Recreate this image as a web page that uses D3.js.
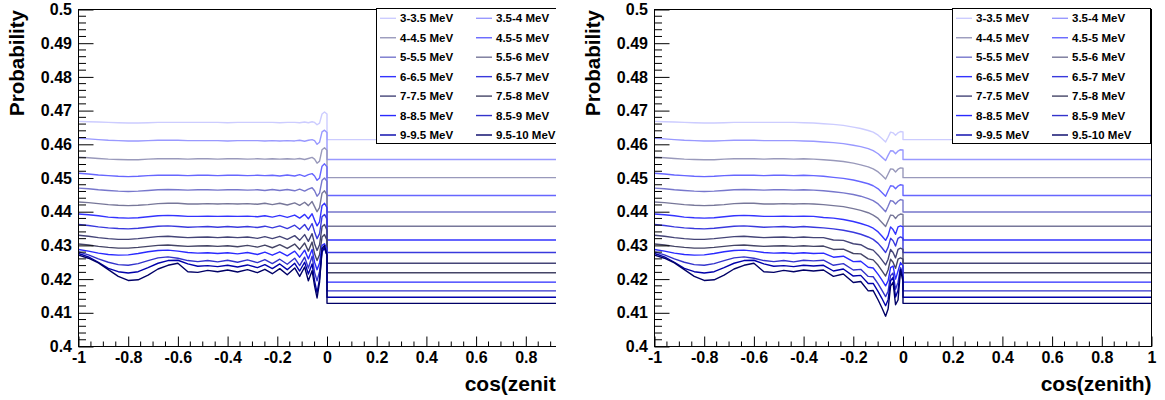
<!DOCTYPE html>
<html><head><meta charset="utf-8">
<script src="https://cdn.jsdelivr.net/npm/d3@7"></script>
<style>body{margin:0;background:#fff}svg{display:block}</style>
</head><body>
<svg id="c" width="1165" height="400"></svg>
<script>
const labels = ["3-3.5 MeV","3.5-4 MeV","4-4.5 MeV","4.5-5 MeV","5-5.5 MeV","5.5-6 MeV","6-6.5 MeV","6.5-7 MeV","7-7.5 MeV","7.5-8 MeV","8-8.5 MeV","8.5-9 MeV","9-9.5 MeV","9.5-10 MeV"];
const colors = ["#ccccff","#9999ff","#9999bb","#6666ff","#7777cc","#777799","#3333ff","#3939dd","#444477","#444466","#2a2aff","#3333cc","#0000aa","#000066"];

const xTicks = [-1,-0.8,-0.6,-0.4,-0.2,0,0.2,0.4,0.6,0.8,1];
const yTicks = [0.4,0.41,0.42,0.43,0.44,0.45,0.46,0.47,0.48,0.49,0.5];

// night-side grid (cos zenith < 0)
const xGridLeft = [-1,-0.96,-0.92,-0.88,-0.84,-0.8,-0.76,-0.72,-0.68,-0.64,-0.6,-0.56,-0.52,-0.48,-0.44,-0.4,-0.36,-0.32,-0.28,-0.25,-0.22,-0.19,-0.16,-0.13,-0.11,-0.09,-0.075,-0.06,-0.05,-0.04,-0.03,-0.02,-0.01,0];
const xGridRightTail = [-0.36,-0.32,-0.28,-0.24,-0.2,-0.17,-0.14,-0.12,-0.1,-0.085,-0.07,-0.06,-0.05,-0.04,-0.03,-0.02,-0.01,0];

// left panel night probabilities, one row per energy bin
const nightLeft = [
[.4668,.4667,.4666,.4665,.4664,.4663,.4663,.4664,.4665,.4665,.4665,.4665,.4665,.4665,.4665,.4664,.4665,.4665,.4665,.4665,.4665,.4664,.4665,.4665,.4664,.4666,.4664,.4667,.4665,.4658,.4663,.4690,.4696,.4690],
[.4618,.4616,.4614,.4612,.4611,.4610,.4610,.4611,.4612,.4612,.4612,.4611,.4611,.4611,.4611,.4610,.4611,.4611,.4611,.4610,.4611,.4610,.4611,.4610,.4612,.4609,.4612,.4614,.4611,.4600,.4606,.4637,.4642,.4635],
[.4562,.4560,.4558,.4556,.4555,.4554,.4554,.4556,.4557,.4557,.4557,.4556,.4557,.4557,.4556,.4557,.4557,.4556,.4557,.4556,.4557,.4556,.4557,.4556,.4558,.4555,.4558,.4561,.4556,.4544,.4550,.4584,.4590,.4582],
[.4514,.4512,.4509,.4507,.4505,.4504,.4505,.4507,.4508,.4508,.4508,.4507,.4508,.4508,.4507,.4508,.4508,.4507,.4508,.4507,.4508,.4506,.4509,.4506,.4510,.4505,.4510,.4513,.4506,.4493,.4500,.4535,.4542,.4533],
[.4470,.4468,.4465,.4463,.4461,.4460,.4461,.4463,.4465,.4466,.4465,.4464,.4465,.4465,.4464,.4465,.4465,.4464,.4465,.4463,.4466,.4463,.4466,.4462,.4467,.4461,.4467,.4471,.4462,.4446,.4455,.4493,.4500,.4490],
[.4429,.4427,.4424,.4421,.4419,.4418,.4419,.4421,.4424,.4425,.4425,.4423,.4423,.4424,.4423,.4424,.4423,.4424,.4422,.4425,.4421,.4425,.4420,.4426,.4419,.4428,.4418,.4430,.4415,.4400,.4412,.4455,.4462,.4450],
[.4393,.4391,.4388,.4384,.4382,.4381,.4382,.4385,.4388,.4389,.4388,.4386,.4386,.4387,.4386,.4387,.4386,.4387,.4385,.4388,.4384,.4389,.4383,.4390,.4381,.4392,.4379,.4394,.4375,.4358,.4370,.4418,.4425,.4412],
[.4362,.4359,.4355,.4352,.4350,.4349,.4351,.4354,.4357,.4358,.4356,.4354,.4355,.4356,.4354,.4356,.4354,.4356,.4353,.4357,.4352,.4358,.4350,.4360,.4348,.4362,.4345,.4365,.4340,.4320,.4335,.4385,.4392,.4378],
[.4330,.4327,.4323,.4320,.4318,.4318,.4320,.4323,.4326,.4327,.4325,.4323,.4324,.4325,.4323,.4325,.4323,.4325,.4321,.4326,.4320,.4327,.4318,.4329,.4315,.4332,.4312,.4335,.4305,.4285,.4302,.4355,.4362,.4345],
[.4304,.4301,.4297,.4294,.4292,.4292,.4294,.4297,.4300,.4301,.4299,.4297,.4298,.4299,.4297,.4299,.4296,.4300,.4295,.4301,.4293,.4302,.4291,.4304,.4288,.4307,.4283,.4310,.4275,.4255,.4272,.4325,.4332,.4315],
[.4288,.4283,.4277,.4273,.4271,.4272,.4276,.4281,.4285,.4286,.4283,.4279,.4277,.4278,.4276,.4278,.4275,.4279,.4273,.4280,.4271,.4281,.4269,.4283,.4265,.4286,.4260,.4288,.4250,.4228,.4248,.4300,.4305,.4290],
[.4281,.4272,.4260,.4250,.4243,.4241,.4246,.4255,.4263,.4266,.4262,.4255,.4252,.4255,.4251,.4256,.4250,.4257,.4249,.4258,.4246,.4259,.4244,.4262,.4240,.4265,.4233,.4268,.4220,.4195,.4222,.4285,.4290,.4272],
[.4276,.4266,.4250,.4232,.4222,.4218,.4222,.4234,.4247,.4255,.4256,.4245,.4238,.4240,.4237,.4241,.4236,.4242,.4234,.4243,.4231,.4245,.4228,.4247,.4224,.4250,.4215,.4245,.4195,.4160,.4200,.4280,.4295,.4270],
[.4271,.4262,.4248,.4228,.4208,.4196,.4198,.4212,.4230,.4241,.4247,.4222,.4220,.4226,.4222,.4227,.4221,.4228,.4219,.4229,.4216,.4231,.4213,.4233,.4208,.4236,.4195,.4225,.4180,.4144,.4190,.4290,.4300,.4270]
];

// right panel: same as left up to -0.4, then these values on xGridRightTail
const nightRightTail = [
[.4663,.4661,.4659,.4656,.4651,.4647,.4641,.4636,.4627,.4617,.4607,.4621,.4636,.4634,.4627,.4634,.4638,.4637],
[.4609,.4607,.4605,.4602,.4597,.4593,.4587,.4581,.4572,.4562,.4552,.4567,.4581,.4580,.4572,.4580,.4584,.4583],
[.4556,.4554,.4552,.4549,.4544,.4539,.4533,.4527,.4518,.4508,.4497,.4512,.4527,.4526,.4518,.4526,.4530,.4529],
[.4507,.4505,.4502,.4499,.4494,.4489,.4483,.4477,.4468,.4457,.4446,.4462,.4477,.4476,.4468,.4476,.4480,.4479],
[.4464,.4462,.4459,.4456,.4451,.4446,.4439,.4433,.4423,.4412,.4400,.4416,.4433,.4431,.4423,.4431,.4436,.4434],
[.4423,.4421,.4418,.4415,.4409,.4404,.4397,.4390,.4380,.4368,.4356,.4373,.4390,.4389,.4380,.4389,.4393,.4392],
[.4386,.4383,.4381,.4377,.4371,.4365,.4358,.4351,.4340,.4328,.4315,.4329,.4355,.4347,.4333,.4355,.4358,.4355],
[.4354,.4352,.4349,.4345,.4339,.4333,.4325,.4318,.4306,.4293,.4279,.4294,.4321,.4314,.4298,.4321,.4325,.4321],
[.4323,.4323,.4316,.4315,.4305,.4302,.4290,.4286,.4271,.4257,.4242,.4259,.4288,.4279,.4263,.4288,.4292,.4288],
[.4297,.4298,.4288,.4289,.4276,.4275,.4260,.4257,.4241,.4225,.4209,.4227,.4259,.4250,.4232,.4259,.4263,.4259],
[.4276,.4277,.4265,.4268,.4252,.4253,.4235,.4233,.4214,.4198,.4180,.4195,.4234,.4239,.4200,.4224,.4249,.4239],
[.4254,.4256,.4241,.4246,.4227,.4229,.4208,.4207,.4186,.4167,.4148,.4164,.4211,.4218,.4170,.4191,.4234,.4218],
[.4239,.4241,.4224,.4230,.4209,.4211,.4187,.4187,.4163,.4143,.4121,.4139,.4195,.4205,.4147,.4167,.4229,.4205],
[.4224,.4227,.4208,.4215,.4190,.4193,.4165,.4166,.4138,.4115,.4090,.4111,.4179,.4190,.4124,.4138,.4227,.4193]
];

// day-side (cos zenith > 0) flat probabilities
const dayLevels = [0.4614,0.4555,0.4501,0.4448,0.4399,0.4357,0.4316,0.4279,0.4247,0.4219,0.4191,0.4165,0.4146,0.4128];

const FONT = "'Liberation Sans', Arial, Helvetica, sans-serif";
const svg = d3.select('#c');

const leftSeries = nightLeft.map(row => row.map((v, j) => [xGridLeft[j], v]));
const rightSeries = nightLeft.map((row, i) =>
  row.slice(0, 16).map((v, j) => [xGridLeft[j], v])
    .concat(nightRightTail[i].map((v, j) => [xGridRightTail[j], v])));

function drawPanel(ox, clipRight, series) {
  const x = d3.scaleLinear().domain([-1, 1]).range([ox + 0.5, ox + 497.5]);
  const y = d3.scaleLinear().domain([0.4, 0.5]).range([346.5, 9.5]);
  const cid = 'clip' + ox;
  svg.append('clipPath').attr('id', cid).append('rect')
    .attr('x', ox - 80).attr('y', 0).attr('width', clipRight - (ox - 80)).attr('height', 400);
  const g = svg.append('g').attr('clip-path', `url(#${cid})`);

  const line = d3.line().x(d => x(d[0])).y(d => y(d[1]));
  series.forEach((pts, i) => {
    const all = pts.concat([[0, dayLevels[i]], [1, dayLevels[i]]]);
    g.append('path').attr('d', line(all)).attr('fill', 'none')
      .attr('stroke', colors[i]).attr('stroke-width', 1.4).attr('stroke-linejoin', 'round');
  });

  // frame
  g.append('rect').attr('x', x(-1)).attr('y', y(0.5))
    .attr('width', x(1) - x(-1)).attr('height', y(0.4) - y(0.5))
    .attr('fill', 'none').attr('stroke', '#000').attr('stroke-width', 1);

  // minor ticks
  const yMinor = d3.range(0, 51).map(k => 0.4 + k * 0.002).filter((v, k) => k % 5 !== 0);
  g.append('g').selectAll('line').data(yMinor).join('line')
    .attr('x1', x(-1)).attr('x2', x(-1) + 7.5)
    .attr('y1', d => y(d)).attr('y2', d => y(d)).attr('stroke', '#000');
  const xMinor = d3.range(0, 41).map(k => -1 + k * 0.05).filter((v, k) => k % 4 !== 0);
  g.append('g').selectAll('line').data(xMinor).join('line')
    .attr('x1', d => x(d)).attr('x2', d => x(d))
    .attr('y1', y(0.4)).attr('y2', y(0.4) - 5).attr('stroke', '#000');

  // axes
  const ya = g.append('g').attr('transform', `translate(${x(-1)},0)`)
    .call(d3.axisLeft(y).tickValues(yTicks).tickFormat(d => String(+d.toFixed(2)))
      .tickSizeInner(-15).tickSizeOuter(0).tickPadding(6.5));
  ya.select('.domain').remove();
  ya.selectAll('text').attr('font-size', 16).attr('font-weight', 'bold').attr('font-family', FONT).attr('fill', '#000');

  const xa = g.append('g').attr('transform', `translate(0,${y(0.4)})`)
    .call(d3.axisBottom(x).tickValues(xTicks).tickFormat(d => String(+d.toFixed(1)))
      .tickSizeInner(-10).tickSizeOuter(0).tickPadding(5));
  xa.select('.domain').remove();
  xa.selectAll('text').attr('font-size', 16).attr('font-weight', 'bold').attr('font-family', FONT).attr('fill', '#000');

  // titles
  g.append('text').attr('transform', `translate(${ox - 54},10) rotate(-90)`)
    .attr('text-anchor', 'end').attr('font-size', 20.5).attr('font-weight', 'bold')
    .attr('font-family', FONT).text('Probability');
  g.append('text').attr('x', x(1)).attr('y', 391).attr('text-anchor', 'end')
    .attr('font-size', 21).attr('font-weight', 'bold').attr('font-family', FONT).text('cos(zenith)');

  // legend
  const lx = ox + 298.5;
  g.append('rect').attr('x', lx).attr('y', 8.5).attr('width', 198).attr('height', 135)
    .attr('fill', '#fff').attr('stroke', '#000').attr('stroke-width', 1);
  labels.forEach((lab, i) => {
    const col = i % 2, row = Math.floor(i / 2);
    const ex = lx + 3.5 + col * 96, ey = 18.3 + row * 19.45;
    g.append('line').attr('x1', ex).attr('x2', ex + 16).attr('y1', ey).attr('y2', ey)
      .attr('stroke', colors[i]).attr('stroke-width', 1.4);
    g.append('text').attr('x', ex + 20).attr('y', ey).attr('dy', '0.35em')
      .attr('font-size', 11.5).attr('font-weight', 'bold').attr('font-family', FONT).text(lab);
  });
}

drawPanel(78, 556, leftSeries);
drawPanel(654, 1165, rightSeries);
</script>
</body></html>
